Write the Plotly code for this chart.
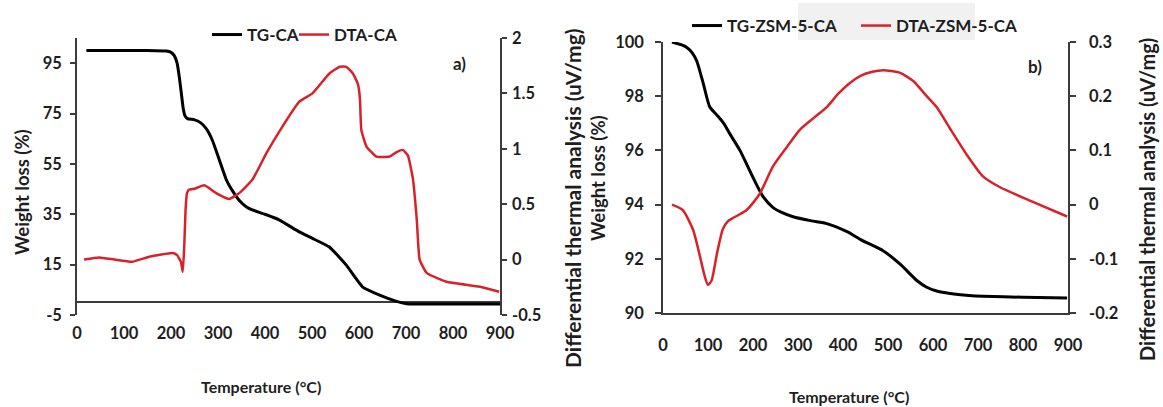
import plotly.graph_objects as go

# ---------------- data: panel a) ----------------
temp_tg_ca = [20, 100, 150, 190, 200, 207, 213, 218, 222, 226, 230, 235, 250, 262, 275, 288, 303, 318, 332,
              345, 360, 373, 400, 431, 473, 500, 537, 573, 608, 644, 680, 701, 720, 800, 900]
tg_ca = [100, 100, 100, 99.8, 99.3, 98, 95, 89, 83, 77, 74, 73, 72.5, 71.5, 69, 64.4, 56.5, 48.6, 44,
         40.6, 38, 36.7, 35, 32.7, 28, 25.5, 22, 14.8, 6.1, 2.9, 0.4, -0.5, -0.6, -0.6, -0.6]

temp_dta_ca = [15, 47, 80, 117, 154, 203, 213, 221, 225, 228, 231, 234, 238, 250, 271, 296, 324, 345, 373,
               403, 437, 473, 501, 537, 559, 573, 587, 598, 602, 605, 616, 637, 665, 680, 693, 704, 715,
               723, 729, 744, 786, 857, 898]
dta_ca = [0.0, 0.02, 0.0, -0.02, 0.026, 0.06, 0.04, -0.02, -0.11, 0.1, 0.45, 0.6, 0.63, 0.64, 0.67, 0.6, 0.547,
          0.6, 0.72, 0.96, 1.2, 1.425, 1.5, 1.68, 1.74, 1.74, 1.68, 1.58, 1.45, 1.17, 1.02, 0.93, 0.93, 0.97,
          0.99, 0.94, 0.72, 0.357, 0.0, -0.12, -0.2, -0.245, -0.29]

# ---------------- data: panel b) ----------------
temp_tg_zsm = [20, 40, 53, 65, 75, 89, 104, 120, 135, 149, 171, 200, 222, 244, 265, 289, 330, 364, 409, 440,
               489, 527, 564, 586, 610, 638, 680, 711, 800, 898]
tg_zsm = [100, 99.9, 99.8, 99.6, 99.3, 98.5, 97.6, 97.3, 97.0, 96.6, 96.0, 95.0, 94.3, 93.9, 93.7, 93.55,
          93.4, 93.3, 93.0, 92.7, 92.3, 91.8, 91.2, 90.95, 90.8, 90.72, 90.65, 90.62, 90.58, 90.55]

temp_dta_zsm = [20, 44, 67, 82, 92, 100, 108, 120, 133, 145, 155, 186, 215, 244, 275, 304, 335, 364, 390,
                416, 440, 465, 489, 527, 556, 586, 608, 638, 675, 711, 749, 822, 898]
dta_zsm = [0.0, -0.01, -0.047, -0.095, -0.13, -0.148, -0.14, -0.09, -0.045, -0.03, -0.025, -0.01, 0.02,
           0.07, 0.106, 0.138, 0.16, 0.18, 0.205, 0.225, 0.238, 0.245, 0.248, 0.243, 0.228, 0.2, 0.18,
           0.14, 0.092, 0.052, 0.032, 0.005, -0.022]

x_ticks = [0, 100, 200, 300, 400, 500, 600, 700, 800, 900]
wl_ticks_a = [-5, 15, 35, 55, 75, 95]
wl_ticktext_a = ["-5", "15", "35", "55", "75", "95"]
dta_ticks_a = [-0.5, 0, 0.5, 1, 1.5, 2]
dta_ticktext_a = ["-0.5", "0", "0.5", "1", "1.5", "2"]
wl_ticks_b = [90, 92, 94, 96, 98, 100]
dta_ticks_b = [-0.2, -0.1, 0, 0.1, 0.2, 0.3]
dta_ticktext_b = ["-0.2", "-0.1", "0", "0.1", "0.2", "0.3"]

W, H = 1163, 407
FONT = "Lato"
TXT = "#1e1e1e"
AX = "#3c3c3c"
RED = "#d8222a"


def px(x):
    return x / W


def py(y):
    return 1 - y / H


tick_font = dict(family=FONT, size=16.5, color=TXT, weight="bold")

fig = go.Figure()
fig.add_trace(go.Scatter(x=temp_tg_ca, y=tg_ca, name="TG-CA", mode="lines",
                         line=dict(color="black", width=3, shape="spline", smoothing=0.4),
                         xaxis="x", yaxis="y", legend="legend"))
fig.add_trace(go.Scatter(x=temp_dta_ca, y=dta_ca, name="DTA-CA", mode="lines",
                         line=dict(color=RED, width=2.5, shape="spline", smoothing=0.4),
                         xaxis="x", yaxis="y2", legend="legend2"))
fig.add_trace(go.Scatter(x=temp_tg_zsm, y=tg_zsm, name="TG-ZSM-5-CA", mode="lines",
                         line=dict(color="black", width=3, shape="spline", smoothing=0.6),
                         xaxis="x2", yaxis="y3", legend="legend3"))
fig.add_trace(go.Scatter(x=temp_dta_zsm, y=dta_zsm, name="DTA-ZSM-5-CA", mode="lines",
                         line=dict(color=RED, width=2.5, shape="spline", smoothing=0.6),
                         xaxis="x2", yaxis="y4", legend="legend4"))

dom_a_x = [px(77), px(500)]
dom_a_y = [py(315), py(38)]
dom_b_x = [px(663), px(1068)]
dom_b_y = [py(313), py(42)]

common_x = dict(range=[0, 900], tickvals=x_ticks, tickfont=tick_font, showgrid=False, ticks="",
                fixedrange=True)

leg_font = dict(family=FONT, size=17, color=TXT, weight="bold")


def legend_at(x_line_start, y_center):
    return dict(orientation="h", x=px(x_line_start - 6), y=py(y_center), xanchor="left", yanchor="middle",
                bgcolor="rgba(0,0,0,0)", font=leg_font, itemwidth=30)


fig.update_layout(
    width=W, height=H, margin=dict(l=0, r=0, t=0, b=0, autoexpand=False),
    paper_bgcolor="white", plot_bgcolor="rgba(0,0,0,0)",
    font=dict(family=FONT, color=TXT),
    xaxis=dict(domain=dom_a_x, anchor="y", showline=False, zeroline=False, ticklabelstandoff=6, **common_x),
    yaxis=dict(domain=dom_a_y, anchor="x", range=[-5, 105], tickvals=wl_ticks_a, ticktext=wl_ticktext_a,
               tickfont=tick_font, showgrid=False, showline=True, linecolor=AX, linewidth=1.5,
               ticks="outside", ticklen=5, tickcolor=AX, tickwidth=1.5, zeroline=True, zerolinecolor=AX,
               zerolinewidth=1.5, ticklabelstandoff=5),
    yaxis2=dict(domain=dom_a_y, anchor="x", overlaying="y", side="right", range=[-0.5, 2],
                tickvals=dta_ticks_a, ticktext=dta_ticktext_a, tickfont=tick_font, showgrid=False,
                showline=True, linecolor=AX, linewidth=1.5, ticks="outside", ticklen=5, tickcolor=AX,
                tickwidth=1.5, zeroline=False, ticklabelstandoff=2),
    xaxis2=dict(domain=dom_b_x, anchor="y3", showline=True, linecolor=AX, linewidth=1.5, zeroline=False,
                ticklabelstandoff=16, **common_x),
    yaxis3=dict(domain=dom_b_y, anchor="x2", range=[90, 100], tickvals=wl_ticks_b, tickfont=tick_font,
                showgrid=False, showline=True, linecolor=AX, linewidth=1.5, ticks="outside", ticklen=6,
                tickcolor=AX, tickwidth=1.5, zeroline=False, ticklabelstandoff=8),
    yaxis4=dict(domain=dom_b_y, anchor="x2", overlaying="y3", side="right", range=[-0.2, 0.3],
                tickvals=dta_ticks_b, ticktext=dta_ticktext_b, tickfont=tick_font, showgrid=False,
                showline=True, linecolor=AX, linewidth=1.5, ticks="outside", ticklen=6, tickcolor=AX,
                tickwidth=1.5, zeroline=False, ticklabelstandoff=10),
    legend=legend_at(213, 35),
    legend2=legend_at(300, 35),
    legend3=legend_at(693, 26),
    legend4=legend_at(862, 26),
    showlegend=True,
)

# faint grey band behind the panel b) legend (as in the original)
fig.add_shape(type="rect", xref="paper", yref="paper", x0=px(798), x1=px(975), y0=py(40), y1=py(3),
              fillcolor="#f1f1f1", line=dict(width=0), layer="below")

ann_font = dict(family=FONT, size=17, color=TXT, weight="bold")
annotations = [
    dict(text="Weight loss (%)", x=px(22), y=py(192), textangle=-90, font=dict(ann_font, size=18.5)),
    dict(text="Differential thermal analysis (uV/mg)", x=px(572), y=py(198), textangle=-90,
         font=dict(ann_font, size=21)),
    dict(text="Weight loss (%)", x=px(598), y=py(178), textangle=-90, font=dict(ann_font, size=18.5)),
    dict(text="Differential thermal analysis (uV/mg)", x=px(1147), y=py(200), textangle=-90,
         font=dict(ann_font, size=20)),
    dict(text="Temperature (°C)", x=px(261), y=py(386), font=dict(ann_font, size=16)),
    dict(text="Temperature (°C)", x=px(849), y=py(396), font=dict(ann_font, size=16)),
    dict(text="a)", x=px(459), y=py(64), font=dict(ann_font, size=17)),
    dict(text="b)", x=px(1035), y=py(66), font=dict(ann_font, size=17)),
]
for a in annotations:
    fig.add_annotation(xref="paper", yref="paper", showarrow=False, xanchor="center", yanchor="middle", **a)

fig.write_html("out.html")
